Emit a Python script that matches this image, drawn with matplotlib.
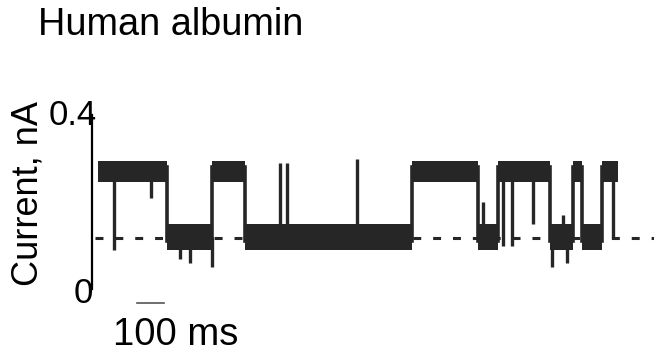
import matplotlib
matplotlib.use("Agg")
import matplotlib.pyplot as plt

# ---- data ----
title = "Human albumin"
ylabel = "Current, nA"
ytick_labels = ["0", "0.4"]
scale_label = "100 ms"
scale_ms = 100

high_level = 0.27   # nA, open/high current level
low_level = 0.12    # nA, blocked/low current level
baseline_level = 0.117  # dashed reference line

# boundaries (ms) of current states and the level within each interval
state_times = [0, 259, 429, 553, 1180, 1429, 1504, 1699, 1786, 1820, 1895, 1955]
state_levels = ["H", "L", "H", "L", "H", "L", "H", "L", "H", "L", "H"]

# brief spikes: (time ms, level reached nA)
spike_times = [60, 199, 308, 346, 429, 684, 711, 974, 1447, 1523, 1556, 1635, 1707, 1748, 1763, 1936]
spike_levels = [0.09, 0.21, 0.07, 0.06, 0.05, 0.29, 0.29, 0.30, 0.20, 0.10, 0.10, 0.15, 0.05, 0.17, 0.06, 0.117]

# ---- style ----
W, H = 654, 356
DPI = 100
ink = "#262626"
fig = plt.figure(figsize=(W / DPI, H / DPI), dpi=DPI)
plt.rcParams["font.family"] = ["Liberation Sans", "DejaVu Sans"]

# axes placement (pixels)
ax_left, ax_right = 92, 654
y0_px, y04_px = 289, 115
ax = fig.add_axes([ax_left / W, (H - y0_px) / H, (ax_right - ax_left) / W, (y0_px - y04_px) / H])
px_per_ms = 0.266
t_origin_px = 98
ax.set_xlim((ax_left - t_origin_px) / px_per_ms, (ax_right - t_origin_px) / px_per_ms)
ax.set_ylim(0, 0.4)
ax.axis("off")
ax.plot([ax.get_xlim()[0]] * 2, [0, 0.4], color="black", lw=1.6, clip_on=False)

levels = {"H": high_level, "L": low_level}
half = {"H": 0.024, "L": 0.03}

# dashed baseline
ax.plot([-11, 2090], [baseline_level] * 2, color=ink, lw=2.2, dashes=(2.6, 3.9), clip_on=False)

# state bands and transitions
for i, s in enumerate(state_levels):
    t0, t1 = state_times[i], state_times[i + 1]
    lv = levels[s]
    ax.fill_between([t0, t1], lv - half[s], lv + half[s], color=ink, lw=0)
    if i > 0:
        prev = levels[state_levels[i - 1]]
        ax.plot([t0, t0], [min(prev, lv) - 0.01, max(prev, lv) + 0.01], color=ink, lw=2.6)

# spikes
for t, lv in zip(spike_times, spike_levels):
    for i in range(len(state_levels)):
        if state_times[i] <= t <= state_times[i + 1]:
            base = levels[state_levels[i]]
            break
    ax.plot([t, t], [base, lv], color=ink, lw=2.4, solid_capstyle="butt")

# scale bar
sb_t0 = (137 - t_origin_px) / px_per_ms
ax.plot([sb_t0, sb_t0 + scale_ms], [-0.032, -0.032], color="#555555", lw=1.2, clip_on=False)

# texts
fig.text(38 / W, 1 - 35 / H, title, fontsize=27.3, ha="left", va="baseline")
fig.text(28 / W, 1 - 193 / H, ylabel, fontsize=26, rotation=90, ha="center", va="center")
fig.text(97 / W, 1 - 125 / H, ytick_labels[1], fontsize=25, ha="right", va="baseline")
fig.text(93 / W, 1 - 303 / H, ytick_labels[0], fontsize=25, ha="right", va="baseline")
fig.text(113 / W, 1 - 345 / H, scale_label, fontsize=27.5, ha="left", va="baseline")

fig.savefig("out.png", dpi=DPI)
